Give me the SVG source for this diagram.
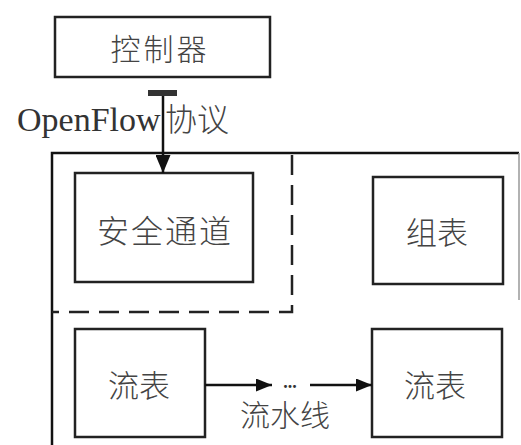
<svg xmlns="http://www.w3.org/2000/svg" width="521" height="445" viewBox="0 0 521 445">
<defs>
<style>
.box{fill:none;stroke:#222;stroke-width:2.5}
.cn{font-family:"Noto Sans CJK SC",sans-serif;fill:#444;text-anchor:middle;font-weight:300}
.ln{stroke:#111;stroke-width:2.5;fill:none}
.dash{stroke:#222;stroke-width:2.5;fill:none;stroke-dasharray:20 10}
</style>
<marker id="ah" viewBox="0 0 16 13" refX="16" refY="6.5" markerWidth="16" markerHeight="13" markerUnits="userSpaceOnUse" orient="auto">
<path d="M0,0 L16,6.5 L0,13 z" fill="#111"/>
</marker>
<marker id="ahv" viewBox="0 0 18 15" refX="18" refY="7.5" markerWidth="18" markerHeight="15" markerUnits="userSpaceOnUse" orient="auto">
<path d="M0,0 L18,7.5 L0,15 z" fill="#111"/>
</marker>
</defs>
<rect width="521" height="445" fill="#fff"/>
<g id="switch">
<path d="M519,153 L52,153 L52,445" class="ln" stroke-width="2"/>
<path d="M519,153 L519,300" stroke="#999" stroke-width="1.5" fill="none"/>
<path d="M292,155 L292,312 L52,312" class="dash"/>
</g>
<g id="controller">
<rect x="55" y="17" width="215" height="60" class="box"/>
<text x="160" y="60" class="cn" font-size="30" letter-spacing="3">控制器</text>
</g>
<g id="openflow-label">
<text x="17" y="131" font-family="Liberation Serif, serif" font-size="34" fill="#333">OpenFlow</text>
<text x="197" y="131" class="cn" font-size="32">协议</text>
</g>
<g id="secure-channel">
<rect x="75" y="173" width="178" height="109" class="box"/>
<text x="165" y="243" class="cn" font-size="32" letter-spacing="2">安全通道</text>
</g>
<g id="group-table">
<rect x="373" y="177" width="130" height="107" class="box"/>
<text x="437" y="244" class="cn" font-size="31">组表</text>
</g>
<g id="flow-table-1">
<rect x="75" y="329" width="130" height="108" class="box"/>
<text x="139" y="397" class="cn" font-size="31">流表</text>
</g>
<g id="flow-table-2">
<rect x="372" y="329" width="130" height="108" class="box"/>
<text x="435" y="397" class="cn" font-size="31">流表</text>
</g>
<g id="connectors">
<rect x="148" y="90" width="29" height="6" fill="#333"/>
<line x1="163" y1="96" x2="163" y2="173" class="ln" stroke-width="2" marker-end="url(#ahv)"/>
<line x1="205" y1="385" x2="272" y2="385" class="ln" marker-end="url(#ah)"/>
<text x="290" y="388" font-family="Liberation Serif, serif" font-size="18" font-weight="bold" fill="#333" text-anchor="middle">...</text>
<line x1="310" y1="385" x2="372" y2="385" class="ln" marker-end="url(#ah)"/>
<text x="285" y="426" class="cn" font-size="30">流水线</text>
</g>
</svg>
